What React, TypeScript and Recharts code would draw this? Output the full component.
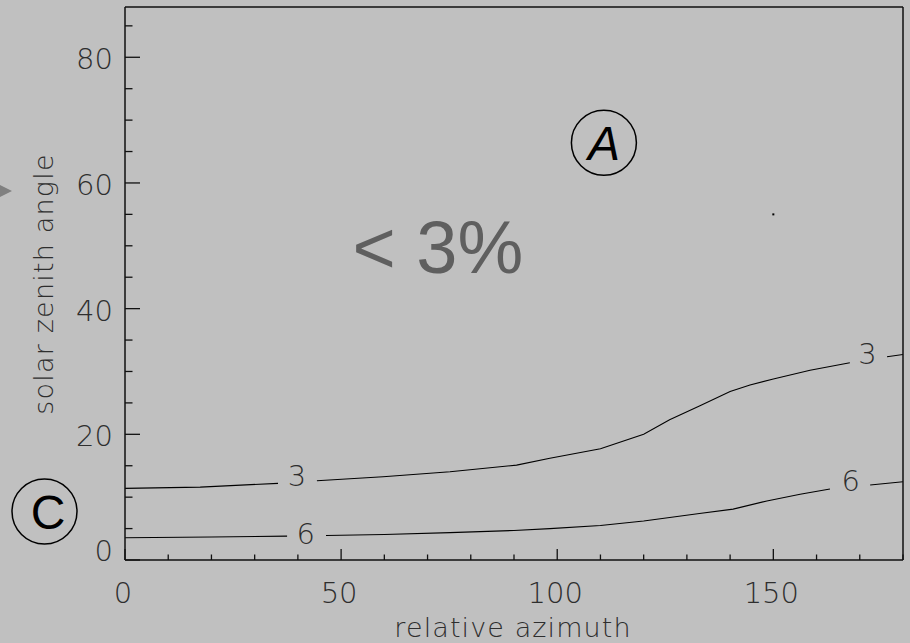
import React from "react";
import { LineChart, Line, XAxis, YAxis, ReferenceDot } from "recharts";

const W = 910;
const H = 643;

// contour "3": relative azimuth vs solar zenith angle (null = gap for the label)
const c3Azimuth = [0, 17.4, 35.4, 40, 44.4, 59.7, 75.2, 90.6, 98.3, 110, 120, 126, 132.9, 140, 144.6, 150, 158.5, 167.7, 172, 176.3, 180];
const c3Zenith = [11.4, 11.6, 12.2, null, 12.6, 13.25, 14.05, 15.1, 16.2, 17.7, 20.0, 22.3, 24.5, 26.8, 27.85, 28.8, 30.2, 31.4, null, 32.35, 32.7];

// contour "6"
const c6Azimuth = [0, 20, 37.5, 42, 46.5, 60, 75.2, 90, 98.3, 110, 120, 132.9, 140.7, 148.5, 156.2, 163.1, 168, 172.4, 180];
const c6Zenith = [3.55, 3.65, 3.8, null, 3.9, 4.05, 4.35, 4.7, 5.0, 5.5, 6.2, 7.4, 8.1, 9.4, 10.45, 11.3, null, 11.93, 12.46];

// contour labels sit in the gaps
const contourLabels = [
  { az: 39.8, sza: 13.3, text: "3" },
  { az: 41.8, sza: 4.1, text: "6" },
  { az: 171.8, sza: 32.8, text: "3" },
  { az: 167.9, sza: 12.6, text: "6" },
];

const xTicks = [0, 10, 20, 30, 40, 50, 60, 70, 80, 90, 100, 110, 120, 130, 140, 150, 160, 170, 180];
const yTicks = [0, 5, 10, 15, 20, 25, 30, 35, 40, 45, 50, 55, 60, 65, 70, 75, 80, 85];
const xMajor = [0, 50, 100, 150];
const yMajor = [0, 20, 40, 60, 80];

const toRows = (az: number[], sza: (number | null)[]) => az.map((a, i) => ({ az: a, sza: sza[i] }));
const contour3 = toRows(c3Azimuth, c3Zenith);
const contour6 = toRows(c6Azimuth, c6Zenith);

const FONT = "'DejaVu Sans', Roboto, sans-serif";
const INK = "#2e2e2e";
const NUM = { fontFamily: FONT, fontWeight: 200, fontSize: 29, fill: INK } as const;

const BottomTick = (p: any) => {
  const { x, y, payload } = p;
  const major = xMajor.includes(payload.value);
  return (
    <g>
      <line x1={x} x2={x} y1={y} y2={y - (major ? 11 : 5.5)} stroke="#111" strokeWidth={1.3} />
      {major && (
        <text x={x - 2} y={y + 33} textAnchor="middle" dominantBaseline="central" {...NUM}>
          {payload.value}
        </text>
      )}
    </g>
  );
};

const TopTick = (p: any) => {
  const { x, y, payload } = p;
  const major = xMajor.includes(payload.value);
  return <line x1={x} x2={x} y1={y} y2={y + (major ? 11 : 5.5)} stroke="#111" strokeWidth={1.3} />;
};

const LeftTick = (p: any) => {
  const { x, y, payload } = p;
  const major = yMajor.includes(payload.value);
  const ty = payload.value === 0 ? y - 9 : y + 2;
  return (
    <g>
      <line x1={x} x2={x + (major ? 15 : 7.5)} y1={y} y2={y} stroke="#111" strokeWidth={1.3} />
      {major && (
        <text x={x - 12} y={ty} textAnchor="end" dominantBaseline="central" {...NUM}>
          {payload.value}
        </text>
      )}
    </g>
  );
};

const RightTick = (p: any) => {
  const { x, y, payload } = p;
  const major = yMajor.includes(payload.value);
  return <line x1={x} x2={x - (major ? 15 : 7.5)} y1={y} y2={y} stroke="#111" strokeWidth={1.3} />;
};

const axisLine = { stroke: "#111", strokeWidth: 1.5 };

export default function App() {
  return (
    <div style={{ position: "absolute", left: 0, top: 0, width: W, height: H, background: "#c0c0c0", overflow: "hidden" }}>
      <LineChart width={W} height={H} margin={{ top: 6, right: 6, bottom: 23, left: 45 }}>
        <XAxis xAxisId="b" dataKey="az" type="number" domain={[0, 180]} ticks={xTicks} interval={0}
          tickSize={0} tickMargin={0} tickLine={false} axisLine={axisLine} tick={BottomTick} height={60} allowDataOverflow />
        <XAxis xAxisId="t" orientation="top" dataKey="az" type="number" domain={[0, 180]} ticks={xTicks} interval={0}
          tickSize={0} tickMargin={0} tickLine={false} axisLine={axisLine} tick={TopTick} height={1} />
        <YAxis yAxisId="l" type="number" domain={[0, 88]} ticks={yTicks} interval={0}
          tickSize={0} tickMargin={0} tickLine={false} axisLine={axisLine} tick={LeftTick} width={80} allowDataOverflow />
        <YAxis yAxisId="r" orientation="right" type="number" domain={[0, 88]} ticks={yTicks} interval={0}
          tickSize={0} tickMargin={0} tickLine={false} axisLine={axisLine} tick={RightTick} width={1} />

        <Line xAxisId="b" yAxisId="l" data={contour3} dataKey="sza" type="linear" stroke="#000" strokeWidth={1.1}
          dot={false} isAnimationActive={false} />
        <Line xAxisId="b" yAxisId="l" data={contour6} dataKey="sza" type="linear" stroke="#000" strokeWidth={1.1}
          dot={false} isAnimationActive={false} />

        {contourLabels.map((l, i) => (
          <ReferenceDot key={i} xAxisId="b" yAxisId="l" x={l.az} y={l.sza} r={0}
            shape={(s: any) => (
              <text x={s.cx} y={s.cy} textAnchor="middle" dominantBaseline="central" {...NUM}>
                {l.text}
              </text>
            )} />
        ))}

        <ReferenceDot xAxisId="b" yAxisId="l" x={150} y={55} r={0}
          shape={(s: any) => <rect x={s.cx - 1} y={s.cy - 1} width={2} height={2} fill="#000" />} />

        <ReferenceDot xAxisId="b" yAxisId="l" x={110.8} y={66.4} r={0}
          shape={(s: any) => (
            <g>
              <circle cx={s.cx} cy={s.cy} r={32.5} fill="none" stroke="#000" strokeWidth={1.5} />
              <text x={s.cx} y={s.cy + 1} textAnchor="middle" dominantBaseline="central" fontFamily="'Liberation Sans', Arial, sans-serif"
                fontStyle="italic" fontSize={48} fill="#000">A</text>
            </g>
          )} />

        <ReferenceDot xAxisId="b" yAxisId="l" x={72.4} y={49.7} r={0}
          shape={(s: any) => (
            <text x={s.cx} y={s.cy} textAnchor="middle" dominantBaseline="central" fontFamily="'Liberation Sans', Arial, sans-serif"
              fontSize={74} fill="#5f5f5f">&lt; 3%</text>
          )} />
      </LineChart>

      <svg width={W} height={H} style={{ position: "absolute", left: 0, top: 0, pointerEvents: "none" }}>
        <polygon points="0,185 12,191 0,197" fill="#808080" />
        <circle cx={44.5} cy={511.5} r={32.5} fill="none" stroke="#000" strokeWidth={1.5} />
        <text x={48} y={512} textAnchor="middle" dominantBaseline="central" fontFamily="'Liberation Sans', Arial, sans-serif"
          fontSize={48} fill="#000">C</text>
        <text x={513} y={637} textAnchor="middle" fontFamily={FONT} fontWeight={200} fontSize={27} fill={INK} letterSpacing={1.1}>
          relative azimuth
        </text>
        <text transform="translate(53,284) rotate(-90)" textAnchor="middle" fontFamily={FONT} fontWeight={200} fontSize={27}
          fill={INK} letterSpacing={1.2}>
          solar zenith angle
        </text>
      </svg>
    </div>
  );
}
